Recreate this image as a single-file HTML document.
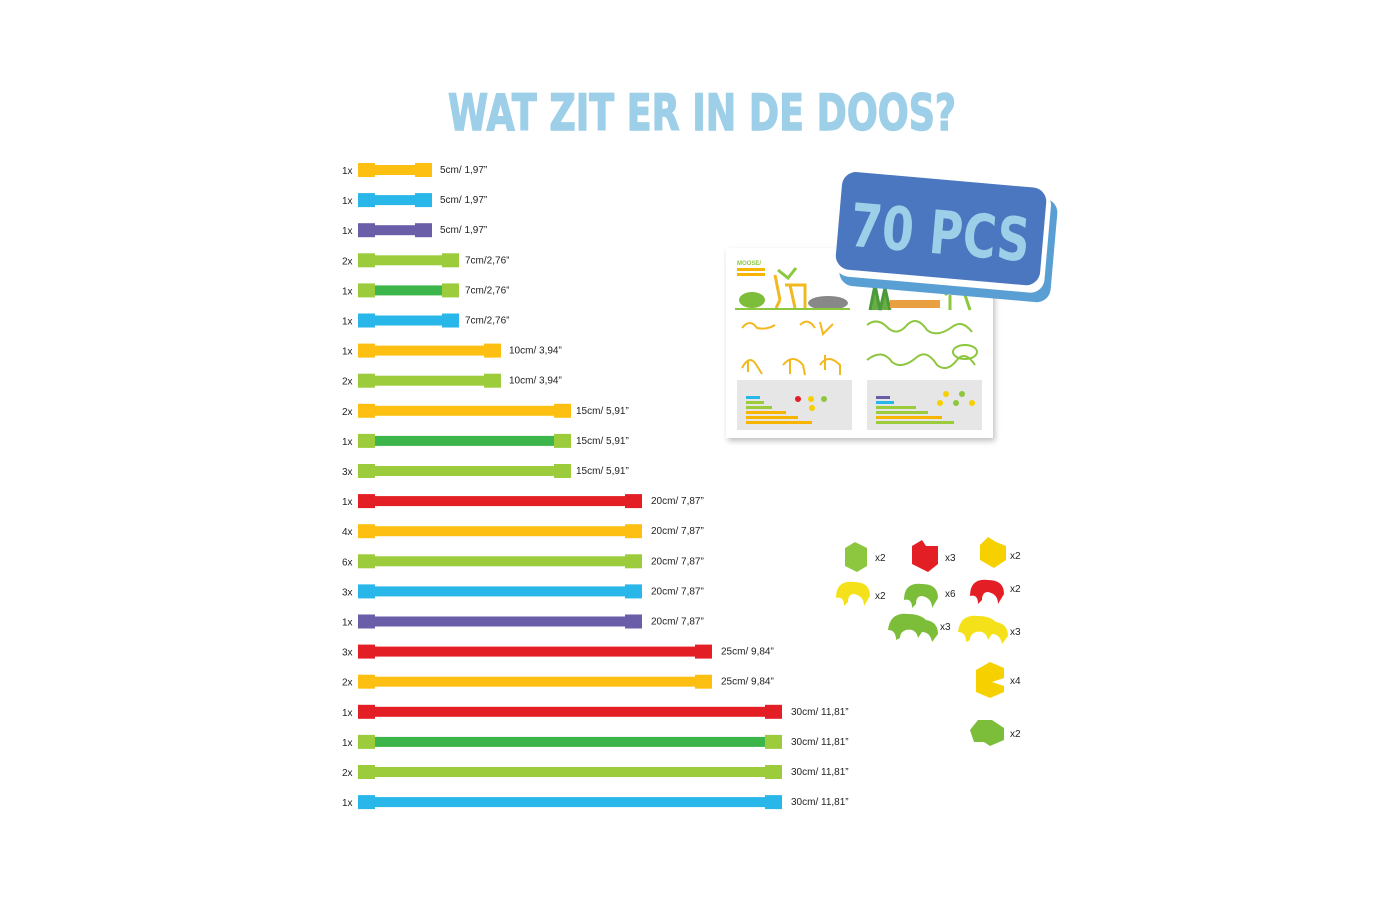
<!DOCTYPE html>
<html><head><style>
html,body{margin:0;padding:0;background:#fff;}
svg text{font-family:"Liberation Sans",sans-serif;}
</style></head><body>
<svg width="1400" height="900" viewBox="0 0 1400 900" xmlns="http://www.w3.org/2000/svg">
<defs>
<filter id="sh" x="-10%" y="-10%" width="130%" height="130%"><feDropShadow dx="2" dy="3" stdDeviation="3" flood-color="#000" flood-opacity="0.25"/></filter>
</defs>
<text x="702" y="130" text-anchor="middle" font-size="50" font-weight="bold" fill="#9dd0e8" style="font-family:'DejaVu Sans','Liberation Sans',sans-serif" textLength="508" lengthAdjust="spacingAndGlyphs" stroke="#9dd0e8" stroke-width="1.5">WAT ZIT ER IN DE DOOS?</text>

<!-- tubes -->
<g font-size="10" fill="#222">
<g transform="translate(0,170)"><text x="342" y="4">1x</text><rect x="372" y="-5" width="46" height="10" fill="#fdc012"/><rect x="358" y="-7" width="17" height="14" fill="#fdc012"/><rect x="415" y="-7" width="17" height="14" fill="#fdc012"/><text x="440" y="3">5cm/ 1,97”</text></g>
<g transform="translate(0,200.1)"><text x="342" y="4">1x</text><rect x="372" y="-5" width="46" height="10" fill="#29b6e8"/><rect x="358" y="-7" width="17" height="14" fill="#29b6e8"/><rect x="415" y="-7" width="17" height="14" fill="#29b6e8"/><text x="440" y="3">5cm/ 1,97”</text></g>
<g transform="translate(0,230.2)"><text x="342" y="4">1x</text><rect x="372" y="-5" width="46" height="10" fill="#6b5ea8"/><rect x="358" y="-7" width="17" height="14" fill="#6b5ea8"/><rect x="415" y="-7" width="17" height="14" fill="#6b5ea8"/><text x="440" y="3">5cm/ 1,97”</text></g>
<g transform="translate(0,260.3)"><text x="342" y="4">2x</text><rect x="372" y="-5" width="73" height="10" fill="#9ccc3c"/><rect x="358" y="-7" width="17" height="14" fill="#9ccc3c"/><rect x="442" y="-7" width="17" height="14" fill="#9ccc3c"/><text x="465" y="3">7cm/2,76”</text></g>
<g transform="translate(0,290.4)"><text x="342" y="4">1x</text><rect x="372" y="-5" width="73" height="10" fill="#3cb54a"/><rect x="358" y="-7" width="17" height="14" fill="#9ccc3c"/><rect x="442" y="-7" width="17" height="14" fill="#9ccc3c"/><text x="465" y="3">7cm/2,76”</text></g>
<g transform="translate(0,320.5)"><text x="342" y="4">1x</text><rect x="372" y="-5" width="73" height="10" fill="#29b6e8"/><rect x="358" y="-7" width="17" height="14" fill="#29b6e8"/><rect x="442" y="-7" width="17" height="14" fill="#29b6e8"/><text x="465" y="3">7cm/2,76”</text></g>
<g transform="translate(0,350.6)"><text x="342" y="4">1x</text><rect x="372" y="-5" width="115" height="10" fill="#fdc012"/><rect x="358" y="-7" width="17" height="14" fill="#fdc012"/><rect x="484" y="-7" width="17" height="14" fill="#fdc012"/><text x="509" y="3">10cm/ 3,94”</text></g>
<g transform="translate(0,380.7)"><text x="342" y="4">2x</text><rect x="372" y="-5" width="115" height="10" fill="#9ccc3c"/><rect x="358" y="-7" width="17" height="14" fill="#9ccc3c"/><rect x="484" y="-7" width="17" height="14" fill="#9ccc3c"/><text x="509" y="3">10cm/ 3,94”</text></g>
<g transform="translate(0,410.8)"><text x="342" y="4">2x</text><rect x="372" y="-5" width="185" height="10" fill="#fdc012"/><rect x="358" y="-7" width="17" height="14" fill="#fdc012"/><rect x="554" y="-7" width="17" height="14" fill="#fdc012"/><text x="576" y="3">15cm/ 5,91”</text></g>
<g transform="translate(0,440.9)"><text x="342" y="4">1x</text><rect x="372" y="-5" width="185" height="10" fill="#3cb54a"/><rect x="358" y="-7" width="17" height="14" fill="#9ccc3c"/><rect x="554" y="-7" width="17" height="14" fill="#9ccc3c"/><text x="576" y="3">15cm/ 5,91”</text></g>
<g transform="translate(0,471)"><text x="342" y="4">3x</text><rect x="372" y="-5" width="185" height="10" fill="#9ccc3c"/><rect x="358" y="-7" width="17" height="14" fill="#9ccc3c"/><rect x="554" y="-7" width="17" height="14" fill="#9ccc3c"/><text x="576" y="3">15cm/ 5,91”</text></g>
<g transform="translate(0,501.1)"><text x="342" y="4">1x</text><rect x="372" y="-5" width="256" height="10" fill="#e31e24"/><rect x="358" y="-7" width="17" height="14" fill="#e31e24"/><rect x="625" y="-7" width="17" height="14" fill="#e31e24"/><text x="651" y="3">20cm/ 7,87”</text></g>
<g transform="translate(0,531.2)"><text x="342" y="4">4x</text><rect x="372" y="-5" width="256" height="10" fill="#fdc012"/><rect x="358" y="-7" width="17" height="14" fill="#fdc012"/><rect x="625" y="-7" width="17" height="14" fill="#fdc012"/><text x="651" y="3">20cm/ 7,87”</text></g>
<g transform="translate(0,561.3)"><text x="342" y="4">6x</text><rect x="372" y="-5" width="256" height="10" fill="#9ccc3c"/><rect x="358" y="-7" width="17" height="14" fill="#9ccc3c"/><rect x="625" y="-7" width="17" height="14" fill="#9ccc3c"/><text x="651" y="3">20cm/ 7,87”</text></g>
<g transform="translate(0,591.4)"><text x="342" y="4">3x</text><rect x="372" y="-5" width="256" height="10" fill="#29b6e8"/><rect x="358" y="-7" width="17" height="14" fill="#29b6e8"/><rect x="625" y="-7" width="17" height="14" fill="#29b6e8"/><text x="651" y="3">20cm/ 7,87”</text></g>
<g transform="translate(0,621.5)"><text x="342" y="4">1x</text><rect x="372" y="-5" width="256" height="10" fill="#6b5ea8"/><rect x="358" y="-7" width="17" height="14" fill="#6b5ea8"/><rect x="625" y="-7" width="17" height="14" fill="#6b5ea8"/><text x="651" y="3">20cm/ 7,87”</text></g>
<g transform="translate(0,651.6)"><text x="342" y="4">3x</text><rect x="372" y="-5" width="326" height="10" fill="#e31e24"/><rect x="358" y="-7" width="17" height="14" fill="#e31e24"/><rect x="695" y="-7" width="17" height="14" fill="#e31e24"/><text x="721" y="3">25cm/ 9,84”</text></g>
<g transform="translate(0,681.7)"><text x="342" y="4">2x</text><rect x="372" y="-5" width="326" height="10" fill="#fdc012"/><rect x="358" y="-7" width="17" height="14" fill="#fdc012"/><rect x="695" y="-7" width="17" height="14" fill="#fdc012"/><text x="721" y="3">25cm/ 9,84”</text></g>
<g transform="translate(0,711.8)"><text x="342" y="4">1x</text><rect x="372" y="-5" width="396" height="10" fill="#e31e24"/><rect x="358" y="-7" width="17" height="14" fill="#e31e24"/><rect x="765" y="-7" width="17" height="14" fill="#e31e24"/><text x="791" y="3">30cm/ 11,81”</text></g>
<g transform="translate(0,741.9)"><text x="342" y="4">1x</text><rect x="372" y="-5" width="396" height="10" fill="#3cb54a"/><rect x="358" y="-7" width="17" height="14" fill="#9ccc3c"/><rect x="765" y="-7" width="17" height="14" fill="#9ccc3c"/><text x="791" y="3">30cm/ 11,81”</text></g>
<g transform="translate(0,772)"><text x="342" y="4">2x</text><rect x="372" y="-5" width="396" height="10" fill="#9ccc3c"/><rect x="358" y="-7" width="17" height="14" fill="#9ccc3c"/><rect x="765" y="-7" width="17" height="14" fill="#9ccc3c"/><text x="791" y="3">30cm/ 11,81”</text></g>
<g transform="translate(0,802.1)"><text x="342" y="4">1x</text><rect x="372" y="-5" width="396" height="10" fill="#29b6e8"/><rect x="358" y="-7" width="17" height="14" fill="#29b6e8"/><rect x="765" y="-7" width="17" height="14" fill="#29b6e8"/><text x="791" y="3">30cm/ 11,81”</text></g>
</g>

<!-- booklet -->
<g filter="url(#sh)">
<rect x="726" y="248" width="267" height="190" fill="#fff"/>
</g>
<text x="737" y="265" font-size="6" font-weight="bold" fill="#8dc63f">MOOSE/</text>
<rect x="737" y="268" width="28" height="3" fill="#f7b500"/>
<rect x="737" y="273" width="28" height="3" fill="#f7b500"/>
<ellipse cx="752" cy="300" rx="13" ry="8" fill="#7cbd3a"/>
<path d="M775 275 L780 300 M790 285 L795 308 M785 285 L805 285 L805 308 M780 300 L776 308" stroke="#f2b820" stroke-width="3" fill="none"/>
<path d="M778 270 l10 8 l8 -10" stroke="#8dc63f" stroke-width="3" fill="none"/>
<ellipse cx="828" cy="303" rx="20" ry="7" fill="#888"/>
<rect x="735" y="308" width="115" height="2" fill="#8dc63f"/>
<path d="M870 310 l5 -25 l5 25 l5 -22 l5 22" stroke="#4a9a3a" stroke-width="3" fill="#6aad45"/>
<rect x="890" y="300" width="50" height="8" fill="#e8a040"/>
<path d="M945 295 q10 -10 20 0 l5 15 M950 295 l0 15" stroke="#8dc63f" stroke-width="3" fill="none"/>
<g stroke="#f2b820" stroke-width="2" fill="none">
<path d="M742 328 q8 -10 15 0 q10 2 18 -3"/><path d="M800 325 q8 -8 15 3"/><path d="M820 322 l3 12 l10 -10"/>
<path d="M742 368 q8 -15 15 -2 l5 8 M748 360 l0 12"/><path d="M783 365 q10 -12 20 0 l2 10 M790 360 l0 14"/><path d="M820 365 q8 -12 20 0 l0 10 M825 355 l0 15"/>
</g>
<g stroke="#8dc63f" stroke-width="2" fill="none">
<path d="M867 325 q10 -8 20 2 q10 10 20 -2 q10 -10 20 5 q10 8 25 -3 q10 -8 20 5"/>
<path d="M867 360 q15 -12 25 2 q10 8 25 -5 q10 -8 20 8 q10 8 20 -5 q8 -10 18 5"/>
<ellipse cx="965" cy="352" rx="12" ry="7"/>
</g>
<rect x="737" y="380" width="115" height="50" fill="#e6e6e6"/>
<rect x="867" y="380" width="115" height="50" fill="#e6e6e6"/>
<g>
<rect x="746" y="396" width="14" height="3" fill="#29b6e8"/>
<rect x="746" y="401" width="18" height="3" fill="#9ccc3c"/>
<rect x="746" y="406" width="26" height="3" fill="#9ccc3c"/>
<rect x="746" y="411" width="40" height="3" fill="#f7b500"/>
<rect x="746" y="416" width="52" height="3" fill="#f7b500"/>
<rect x="746" y="421" width="66" height="3" fill="#f7b500"/>
<circle cx="798" cy="399" r="3" fill="#e31e24"/><circle cx="811" cy="399" r="3" fill="#f7d000"/><circle cx="824" cy="399" r="3" fill="#8dc63f"/><circle cx="812" cy="408" r="3" fill="#f7d000"/>
<rect x="876" y="396" width="14" height="3" fill="#6b5ea8"/>
<rect x="876" y="401" width="18" height="3" fill="#29b6e8"/>
<rect x="876" y="406" width="40" height="3" fill="#9ccc3c"/>
<rect x="876" y="411" width="52" height="3" fill="#9ccc3c"/>
<rect x="876" y="416" width="66" height="3" fill="#f7b500"/>
<rect x="876" y="421" width="78" height="3" fill="#9ccc3c"/>
<circle cx="946" cy="394" r="3" fill="#f7d000"/><circle cx="962" cy="394" r="3" fill="#8dc63f"/><circle cx="940" cy="403" r="3" fill="#f7d000"/><circle cx="956" cy="403" r="3" fill="#8dc63f"/><circle cx="972" cy="403" r="3" fill="#f7d000"/>
</g>

<!-- badge -->
<g transform="rotate(5 945 235)">
<rect x="843" y="190" width="212" height="104" rx="14" fill="#5a9fd4"/>
<rect x="838" y="183" width="210" height="102" rx="14" fill="#fff"/>
<rect x="838" y="180" width="205" height="98" rx="14" fill="#4a77c0"/>
<text x="940" y="254" text-anchor="middle" font-size="60" font-weight="bold" fill="#9dd0e8" style="font-family:'DejaVu Sans',sans-serif" textLength="180" lengthAdjust="spacingAndGlyphs">70 PCS</text>
</g>

<!-- connectors -->
<g font-size="10" fill="#222">
<path d="M845 548 l10 -6 l12 6 l0 18 l-10 6 l-12 -6z" fill="#8dc63f"/><text x="875" y="561">x2</text>
<path d="M912 546 l10 -6 l4 6 l12 0 l0 18 l-10 8 l-16 -8z" fill="#e31e24"/><text x="945" y="561">x3</text>
<path d="M980 545 l8 -8 l8 5 l10 4 l0 14 l-12 8 l-14 -8z" fill="#f7d000"/><text x="1010" y="559">x2</text>
<path d="M836 598 q0 -18 18 -16 q16 0 16 14 l-6 10 q0 -10 -10 -12 q-6 0 -6 8 l-4 4 q0 -10 -8 -8z" fill="#f5e11a"/><text x="875" y="599">x2</text>
<path d="M904 600 q0 -18 18 -16 q16 0 16 14 l-6 10 q0 -10 -10 -12 q-6 0 -6 8 l-4 4 q0 -10 -8 -8z" fill="#7cbd3a"/><text x="945" y="597">x6</text>
<path d="M970 596 q0 -18 18 -16 q16 0 16 14 l-6 10 q0 -10 -10 -12 q-6 0 -6 8 l-4 4 q0 -10 -8 -8z" fill="#e31e24"/><text x="1010" y="592">x2</text>
<path d="M888 630 q2 -18 20 -16 q12 0 18 6 q12 2 12 14 l-6 8 q-2 -10 -10 -10 l-4 6 q-2 -10 -12 -8 q-6 2 -6 8 l-4 2 q0 -10 -8 -10z" fill="#7cbd3a"/><text x="940" y="630">x3</text>
<path d="M958 632 q2 -18 20 -16 q12 0 18 6 q12 2 12 14 l-6 8 q-2 -10 -10 -10 l-4 6 q-2 -10 -12 -8 q-6 2 -6 8 l-4 2 q0 -10 -8 -10z" fill="#f5e11a"/><text x="1010" y="635">x3</text>
<path d="M976 670 l14 -8 l14 6 l0 10 l-12 4 l12 4 l0 6 l-14 6 l-14 -6z" fill="#f7d000"/><text x="1010" y="684">x4</text>
<path d="M970 730 l8 -10 l14 0 l12 8 l0 12 l-14 6 l-6 -4 l-10 0z" fill="#7cbd3a"/><text x="1010" y="737">x2</text>
</g>
</svg>
</body></html>
